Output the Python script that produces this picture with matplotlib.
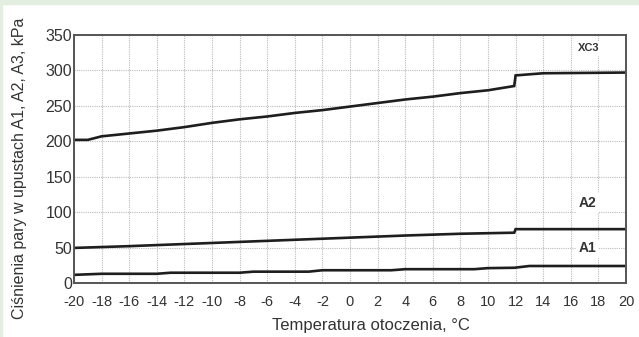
import matplotlib.pyplot as plt
from matplotlib.patches import Rectangle

plt.rcParams['font.family'] = ['Liberation Sans', 'DejaVu Sans']

temp_xc3 = [-20, -19, -18, -16, -14, -12, -10, -8, -6, -4, -2, 0, 2, 4, 6, 8, 10, 11.9, 12, 14, 20]
p_xc3 = [202, 202, 207, 211, 215, 220, 226, 231, 235, 240, 244, 249, 254, 259, 263, 268, 272, 278, 293, 296, 297]

temp_a2 = [-20, -16, -12, -8, -4, 0, 4, 8, 11.9, 12, 20]
p_a2 = [49.5, 52, 55, 58, 61, 64, 67, 69.5, 71, 76, 76]

temp_a1 = [-20, -18, -14, -13, -8, -7, -3, -2, 3, 4, 9, 10, 11.9, 13, 20]
p_a1 = [11.5, 13, 13, 14.5, 14.5, 16, 16, 18, 18, 19.5, 19.5, 21, 21.5, 24, 24]

xticks = list(range(-20, 21, 2))
yticks = list(range(0, 351, 50))

fig = plt.figure(figsize=(6.39, 3.37), dpi=100)
fig.patches.append(Rectangle((0, 1 - 4/337), 1, 4/337, transform=fig.transFigure,
                             color='#e3ede0', zorder=0))
fig.patches.append(Rectangle((0, 0), 2/639, 1, transform=fig.transFigure,
                             color='#e3ede0', zorder=0))

ax = fig.add_axes([74/639, 1 - 283/337, 552/639, 248/337])
line_kw = dict(color='#1e1e1e', lw=1.9, solid_joinstyle='miter')
ax.plot(temp_xc3, p_xc3, **line_kw)
ax.plot(temp_a2, p_a2, **line_kw)
ax.plot(temp_a1, p_a1, **line_kw)

ax.set_xlim(-20, 20)
ax.set_ylim(0, 350)
ax.set_xticks(xticks)
ax.set_yticks(yticks)
ax.set_xticklabels([str(t) for t in xticks])
ax.tick_params(axis='both', length=0, colors='#333333')
ax.tick_params(axis='x', pad=9, labelsize=10.5)
ax.tick_params(axis='y', pad=1.5, labelsize=11.5)
ax.grid(True, color='#bbbbbb', lw=0.8, ls=(0, (1, 1)))
ax.set_axisbelow(True)
for s in ax.spines.values():
    s.set_color('#555555')
    s.set_linewidth(1.4)

lbl = dict(fontweight='bold', color='#333333', ha='center', va='center',
           bbox=dict(facecolor='white', edgecolor='none', pad=2))
ax.text(17.3, 331, 'XC3', fontsize=8, **lbl)
ax.text(17.2, 113, 'A2', fontsize=10, **lbl)
ax.text(17.2, 49, 'A1', fontsize=10, **lbl)

ax.set_xlabel('Temperatura otoczenia, °C', fontsize=12, color='#333333')
ax.xaxis.set_label_coords((371 - 74) / 552, -(318 - 283) / 248)
ax.set_ylabel('Ciśnienia pary w upustach A1, A2, A3, kPa', fontsize=11.5,
              color='#333333')
ax.yaxis.set_label_coords(-(74 - 27) / 552, (283 - 168) / 248)

fig.savefig('out.png', dpi=100, facecolor='white')
